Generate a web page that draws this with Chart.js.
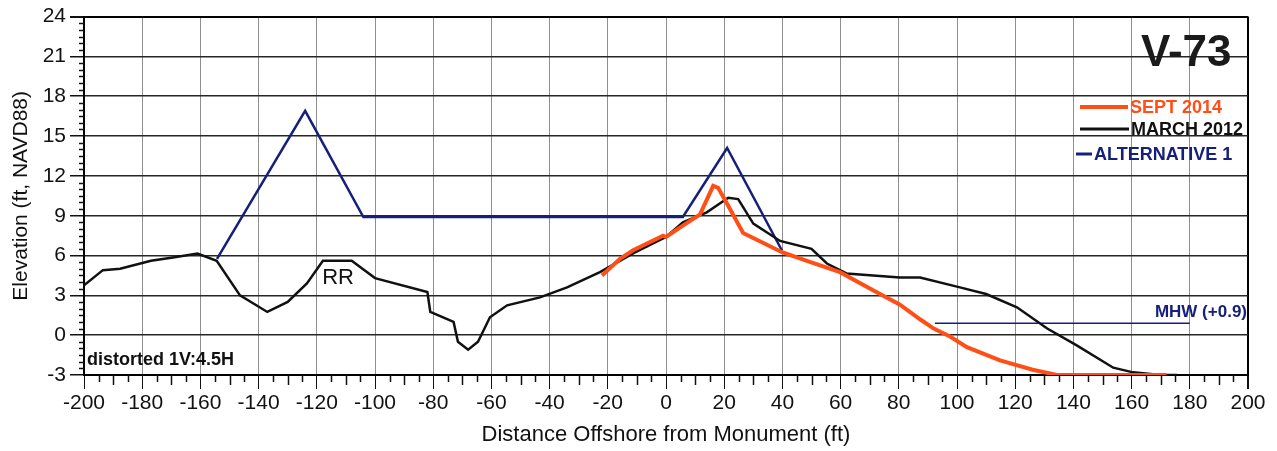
<!DOCTYPE html>
<html>
<head>
<meta charset="utf-8">
<script src="https://cdn.jsdelivr.net/npm/chart.js@4/dist/chart.umd.min.js"></script>
<style>
  html, body { margin: 0; padding: 0; background: #fff; }
  #wrap { width: 1277px; height: 451px; }
</style>
</head>
<body>
<div id="wrap"><canvas id="c" width="1277" height="451"></canvas></div>
<script>
// Axis ranges (ft)
const xMin = -200, xMax = 200, xStep = 20;
const yMin = -3, yMax = 24, yStep = 3;

// SEPT 2014 survey profile
const sept2014X = [-22, -15.8, -11.3, -1, 0, 5.8, 11.7, 16.2, 17.9, 21, 26.5, 39.9, 48.4, 59.8, 71, 80.4, 87.3, 92, 97.6, 103.4, 114.8, 126, 134.4, 172];
const sept2014Y = [4.5, 5.75, 6.4, 7.5, 7.4, 8.25, 9.1, 11.25, 11.1, 9.9, 7.7, 6.25, 5.6, 4.75, 3.4, 2.3, 1.2, 0.5, -0.1, -0.9, -1.9, -2.6, -3.0, -3.0];

// MARCH 2012 survey profile
const march2012X = [-200, -193.5, -187.6, -177, -169.4, -161, -154.4, -146.4, -137, -130, -123.4, -117.9, -108, -100, -82, -81, -73, -71.5, -68, -64.6, -60.5, -54.6, -43.3, -34, -22.7, -11, 0, 5.8, 14, 21.4, 24.8, 30, 39.2, 50, 55.3, 62, 80.4, 87.3, 101, 110, 120.6, 131, 141, 153.7, 160.5, 170, 175.6];
const march2012Y = [3.75, 4.9, 5.0, 5.6, 5.85, 6.15, 5.6, 3.0, 1.75, 2.5, 3.9, 5.6, 5.6, 4.3, 3.25, 1.75, 1.0, -0.5, -1.1, -0.5, 1.35, 2.25, 2.85, 3.6, 4.75, 6.2, 7.4, 8.5, 9.25, 10.35, 10.25, 8.4, 7.1, 6.5, 5.4, 4.65, 4.35, 4.35, 3.6, 3.1, 2.1, 0.5, -0.75, -2.45, -2.8, -3.0, -3.0];

// ALTERNATIVE 1 design template
const alt1X = [-154.3, -124, -104, 5.8, 21, 39.8];
const alt1Y = [5.75, 16.9, 8.9, 8.9, 14.1, 6.4];

// Mean high water
const mhwLevel = 0.9;
const mhwX = [92.4, 180];

const toPoints = (xs, ys) => xs.map((x, i) => ({ x: x, y: ys[i] }));

const COL_SEPT = '#ff4f17';
const COL_MARCH = '#111111';
const COL_ALT = '#16207a';
const FONT = '"Liberation Sans", Arial, Helvetica, sans-serif';

// Minor tick marks along both axes
const minorTicks = {
  id: 'minorTicks',
  afterDraw(chart) {
    const { ctx, chartArea: a, scales: { x, y } } = chart;
    ctx.save();
    ctx.strokeStyle = '#111';
    ctx.lineWidth = 1.5;
    ctx.beginPath();
    for (let v = xMin + 5; v < xMax; v += 5) {
      if (v % xStep === 0) continue;
      const px = Math.round(x.getPixelForValue(v)) + 0.5;
      const len = (v % 10 === 0) ? 10 : 7;
      ctx.moveTo(px, a.bottom);
      ctx.lineTo(px, a.bottom + len);
    }
    for (let v = yMin + 0.5; v < yMax; v += 0.5) {
      if (Math.abs(v % yStep) < 1e-9) continue;
      const py = Math.round(y.getPixelForValue(v)) + 0.5;
      ctx.moveTo(a.left - 5, py);
      ctx.lineTo(a.left, py);
    }
    ctx.stroke();
    ctx.restore();
  }
};

// Title, legend and notes drawn over the plot
const annotations = {
  id: 'annotations',
  afterDraw(chart) {
    const { ctx, scales: { x, y } } = chart;
    ctx.save();
    ctx.textBaseline = 'middle';

    ctx.fillStyle = '#1a1a1a';
    ctx.font = 'bold 44px ' + FONT;
    ctx.textAlign = 'left';
    ctx.fillText('V-73', 1141, 54);

    const legend = [
      { label: 'SEPT 2014', color: COL_SEPT, x0: 1080, x1: 1128, y: 107, w: 4 },
      { label: 'MARCH 2012', color: COL_MARCH, x0: 1080, x1: 1129, y: 129, w: 3 },
      { label: 'ALTERNATIVE 1', color: COL_ALT, x0: 1076, x1: 1092, y: 154, w: 3 }
    ];
    ctx.font = 'bold 18px ' + FONT;
    legend.forEach(item => {
      ctx.strokeStyle = item.color;
      ctx.lineWidth = item.w;
      ctx.beginPath();
      ctx.moveTo(item.x0, item.y);
      ctx.lineTo(item.x1, item.y);
      ctx.stroke();
      ctx.fillStyle = item.color;
      ctx.fillText(item.label, item.x1 + 2, item.y + 1);
    });

    ctx.fillStyle = COL_ALT;
    ctx.font = 'bold 17px ' + FONT;
    ctx.textAlign = 'right';
    ctx.fillText('MHW (+0.9)', 1247, 312);

    ctx.fillStyle = '#111';
    ctx.font = '22px ' + FONT;
    ctx.textAlign = 'center';
    ctx.fillText('RR', x.getPixelForValue(-112.7), y.getPixelForValue(4.4) + 1);

    ctx.font = 'bold 18px ' + FONT;
    ctx.textAlign = 'left';
    ctx.fillText('distorted 1V:4.5H', 87, 360);
    ctx.restore();
  }
};

new Chart(document.getElementById('c'), {
  type: 'scatter',
  data: {
    datasets: [
      { label: 'SEPT 2014', data: toPoints(sept2014X, sept2014Y), borderColor: COL_SEPT, borderWidth: 4, showLine: true, pointRadius: 0, tension: 0 },
      { label: 'MARCH 2012', data: toPoints(march2012X, march2012Y), borderColor: COL_MARCH, borderWidth: 2.5, showLine: true, pointRadius: 0, tension: 0 },
      { label: 'ALTERNATIVE 1', data: toPoints(alt1X, alt1Y), borderColor: COL_ALT, borderWidth: 2.5, showLine: true, pointRadius: 0, tension: 0 },
      { label: 'MHW', data: mhwX.map(v => ({ x: v, y: mhwLevel })), borderColor: COL_ALT, borderWidth: 1.5, showLine: true, pointRadius: 0 }
    ]
  },
  options: {
    responsive: false,
    animation: false,
    layout: { padding: { top: 15, right: 29, left: 0, bottom: 0 } },
    plugins: { legend: { display: false }, tooltip: { enabled: false } },
    scales: {
      x: {
        type: 'linear', min: xMin, max: xMax,
        afterFit(s) { s.height = 76; },
        ticks: { stepSize: xStep, color: '#111', font: { family: FONT, size: 21 }, padding: 2, maxRotation: 0 },
        grid: {
          color: c => (c.tick && c.tick.value === xMax) ? '#000' : '#8f8f8f',
          lineWidth: c => (c.tick && c.tick.value === xMax) ? 2 : 1,
          tickColor: '#111', tickLength: 14
        },
        border: { display: true, color: '#000', width: 2 },
        title: { display: true, text: 'Distance Offshore from Monument (ft)', color: '#111', font: { family: FONT, size: 22 }, padding: { top: 0, bottom: 3 } }
      },
      y: {
        type: 'linear', min: yMin, max: yMax,
        afterFit(s) { s.width = 84; },
        ticks: { stepSize: yStep, color: '#111', font: { family: FONT, size: 21 }, padding: 4 },
        grid: {
          color: c => (c.tick && c.tick.value === yMax) ? '#000' : '#262626',
          lineWidth: c => (c.tick && c.tick.value === yMax) ? 2 : 1.5,
          tickColor: '#111', tickLength: 14
        },
        border: { display: true, color: '#000', width: 2 },
        title: { display: true, text: 'Elevation (ft, NAVD88)', color: '#111', font: { family: FONT, size: 21 }, padding: { top: 9, bottom: 0 } }
      }
    }
  },
  plugins: [minorTicks, annotations]
});
</script>
</body>
</html>
